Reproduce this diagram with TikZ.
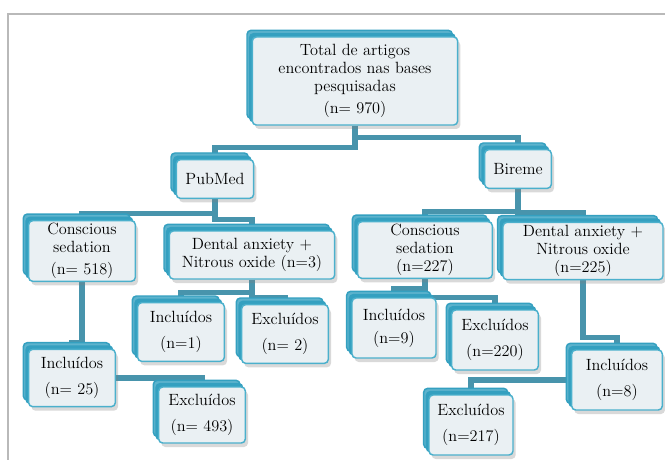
\documentclass[tikz,border=0pt]{standalone}
\usepackage{tikz}
\usetikzlibrary{shadows,backgrounds}
\definecolor{boxline}{RGB}{75,176,204}
\definecolor{boxfill}{RGB}{234,240,243}
\definecolor{boxback}{RGB}{52,160,192}
\definecolor{linkcol}{RGB}{72,148,172}
\begin{document}
\begin{tikzpicture}[x=0.75pt,y=-0.75pt,font=\fontsize{12.2}{13.4}\selectfont]
\tikzstyle{card}=[rectangle,draw=boxline,line width=1.1pt,fill=boxfill,rounded corners=3pt,align=center,inner sep=2pt,
  drop shadow={shadow xshift=2pt,shadow yshift=-3pt,opacity=0.3},
  copy shadow={shadow xshift=-4pt,shadow yshift=5pt,fill=boxback!80!white,draw=boxback},
  copy shadow={shadow xshift=-2pt,shadow yshift=2.5pt,fill=boxback,draw=boxback}]
\tikzstyle{link}=[draw=linkcol,line width=3.8pt]
\useasboundingbox (0,0) rectangle (665,460);
% frame
\draw[gray!55,line width=1pt] (8,460) -- (8,14) -- (665,14);
% top
\node[card,minimum width=154pt,minimum height=66pt] (total) at (355,81) {Total de artigos\\encontrados nas bases\\pesquisadas\\[3pt](n= 970)};
\node[card,minimum width=58pt,minimum height=29pt] (pubmed) at (215,179) {PubMed};
\node[card,minimum width=50pt,minimum height=29pt] (bireme) at (518,169) {Bireme};
% PubMed side
\node[card,minimum width=80pt,minimum height=41pt] (sed1) at (82,251) {Conscious\\sedation\\[3pt](n= 518)};
\node[card,minimum width=124pt,minimum height=36pt] (dent1) at (252,255) {Dental anxiety +\\Nitrous oxide (n=3)};
\node[card,minimum width=65pt,minimum height=44pt] (inc1) at (181,332) {Inclu\'idos\\[6pt](n=1)};
\node[card,minimum width=65pt,minimum height=44pt] (exc2) at (285,334) {Exclu\'idos\\[6pt](n= 2)};
\node[card,minimum width=65pt,minimum height=43pt] (inc25) at (72,378) {Inclu\'idos\\[6pt](n= 25)};
\node[card,minimum width=65pt,minimum height=42pt] (exc493) at (202,415) {Exclu\'idos\\[6pt](n= 493)};
% Bireme side
\node[card,minimum width=101pt,minimum height=42pt] (sed2) at (425,250) {Conscious\\sedation\\(n=227)};
\node[card,minimum width=120pt,minimum height=43pt] (dent2) at (583,251) {Dental anxiety +\\Nitrous oxide\\(n=225)};
\node[card,minimum width=63pt,minimum height=45pt] (inc9) at (394,328) {Inclu\'idos\\[4pt](n=9)};
\node[card,minimum width=65pt,minimum height=45pt] (exc220) at (495,340) {Exclu\'idos\\[6pt](n=220)};
\node[card,minimum width=68pt,minimum height=45pt] (inc8) at (617,380) {Inclu\'idos\\[6pt](n=8)};
\node[card,minimum width=63pt,minimum height=45pt] (exc217) at (471,425) {Exclu\'idos\\[6pt](n=217)};
% connectors
\begin{scope}[on background layer]
\draw[link] (total.south) -- +(0,22) -| (pubmed.north);
\draw[link] (total.south) -- +(0,12) -| (bireme.north);
\draw[link] (pubmed.south) -- +(0,14) -| (sed1.north);
\draw[link] (pubmed.south) -- +(0,20) -| (dent1.north);
\draw[link] (bireme.south) -- +(0,22) -| (sed2.north);
\draw[link] (bireme.south) -- +(0,23) -| (dent2.north);
\draw[link] (sed1.south) -- +(0,60) -| (inc25.north);
\draw[link] (inc25.east) -| (exc493.north);
\draw[link] (dent1.south) -- +(0,13) -| (inc1.north);
\draw[link] (dent1.south) -- +(0,18) -| (exc2.north);
\draw[link] (sed2.south) -- +(0,9) -| (inc9.north);
\draw[link] (sed2.south) -- +(0,18) -| (exc220.north);
\draw[link] (dent2.south) -- +(0,57) -| (inc8.north);
\draw[link] (inc8.west) -| (exc217.north);
\end{scope}
\end{tikzpicture}
\end{document}
